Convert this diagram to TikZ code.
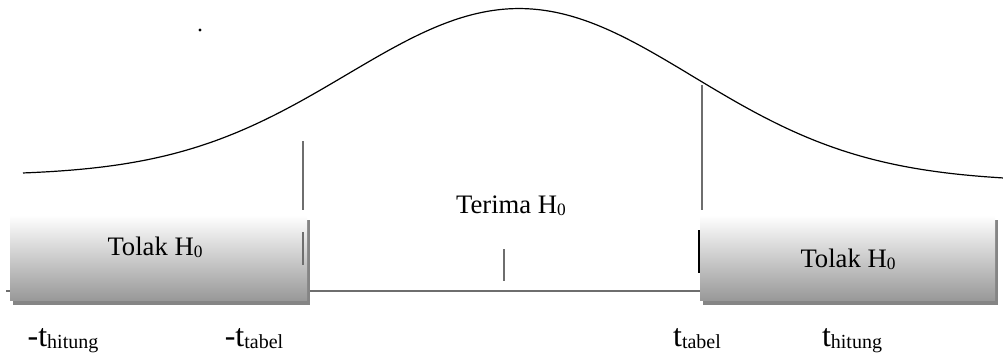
\documentclass[tikz,border=0pt]{standalone}
\usepackage{fontspec}
\setmainfont{Liberation Serif}
\usetikzlibrary{positioning}
\definecolor{linegray}{HTML}{6E6E6E}
\definecolor{shadegray}{HTML}{999999}
\definecolor{shadowgray}{HTML}{858585}
\newcommand{\hnol}{H\raisebox{-2pt}{\fontsize{13}{13}\selectfont 0}}
\newcommand{\tsub}[1]{t\raisebox{-1.5pt}{\fontsize{15}{15}\selectfont #1}}
\tikzset{
    kurva/.style={draw=black,line width=0.9pt},
    batas/.style={draw=linegray,line width=0.8pt},
    batastebal/.style={line width=1.5pt},
    daerah/.style={top color=white,bottom color=shadegray,draw=none},
    bayangan/.style={fill=shadowgray,draw=none},
    teks/.style={anchor=base,inner sep=0pt,font=\fontsize{20}{24}\selectfont},
    nilai/.style={anchor=base,inner sep=0pt,font=\fontsize{24}{28}\selectfont},
}

\begin{document}
\begin{tikzpicture}[x=0.75pt,y=-0.75pt]
    \useasboundingbox (0,0) rectangle (1003,358);

    % kurva distribusi t
    \draw[kurva] plot[domain=23:1003,samples=160,smooth]
        (\x,{175.7+(\x-23)*0.0058-170*exp(-0.5*((\x-520)/173)^2)});
    \fill (200,30) circle (1.6);

    % batas daerah
    \draw[batas] (303,141) -- (303,210);
    \draw[batas] (702,85) -- (702,210);
    \draw[batas] (6,291) -- (700,291);
    \draw[batas] (504,249) -- (504,281);

    % daerah tolak
    \fill[bayangan] (13,220) rectangle (310,305);
    \shade[daerah] (10,215) rectangle (307,300);
    \fill[bayangan] (703,220) rectangle (998,305);
    \shade[daerah] (700,215) rectangle (995,300);
    \draw[batastebal,draw=linegray] (303,232) -- (303,265);
    \draw[batastebal,draw=black] (699,230) -- (699,273);

    \node[teks] (tolakkiri) at (155,255) {Tolak \hnol};
    \node[teks] (tolakkanan) at (848,267) {Tolak \hnol};
    \node[teks] (terima) at (511,213) {Terima \hnol};

    \node[nilai] (hitungkiri) at (63,346) {-\tsub{hitung}};
    \node[nilai] (tabelkiri) at (254,346) {-\tsub{tabel}};
    \node[nilai] (tabelkanan) at (697,346) {\tsub{tabel}};
    \node[nilai] (hitungkanan) at (852,346) {\tsub{hitung}};
\end{tikzpicture}
\end{document}
